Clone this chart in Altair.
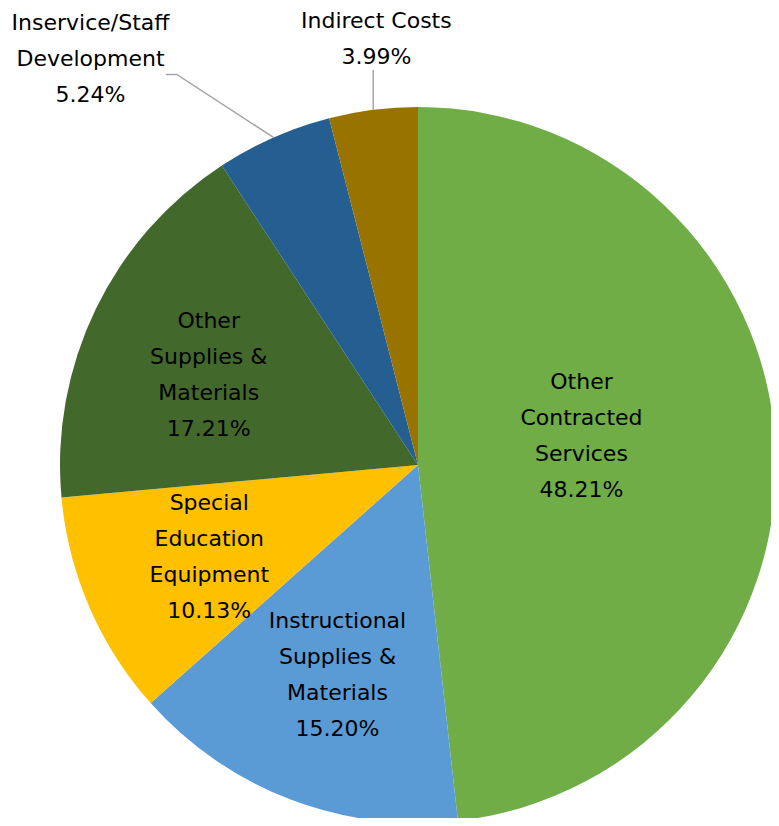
import math
import altair as alt
import pandas as pd

# ---- data ----
categories = [
    "Other Contracted Services",
    "Instructional Supplies & Materials",
    "Special Education Equipment",
    "Other Supplies & Materials",
    "Inservice/Staff Development",
    "Indirect Costs",
]
label_lines = [
    "Other\nContracted\nServices",
    "Instructional\nSupplies &\nMaterials",
    "Special\nEducation\nEquipment",
    "Other\nSupplies &\nMaterials",
    "Inservice/Staff\nDevelopment",
    "Indirect Costs",
]
values = [48.21, 15.20, 10.13, 17.21, 5.24, 3.99]
colors = ["#70AD47", "#5B9BD5", "#FFC000", "#43682B", "#255E91", "#997300"]

# ---- label placement (style) ----
label_radius = [166, 225, 228, 228, 522, 428]
label_angle_offset = [-6.8, 0.0, -0.3, -2.4, -15.06, 1.6]

CX, CY, R = 410, 457, 358
FONT = "DejaVu Sans"
FS = 22
LH = 36

df = pd.DataFrame({
    "idx": list(range(len(categories))),
    "category": categories,
    "label": label_lines,
    "value": values,
    "lr": label_radius,
    "loff": label_angle_offset,
})

# leader lines derived from the pie geometry
total = sum(values)
cum = 0
mids = []
for v in values:
    mids.append((cum + v / 2) / total * 2 * math.pi)
    cum += v

def pt(r, a):
    return CX + r * math.sin(a), CY - r * math.cos(a)

lead_rows = []
a = mids[4]
x0, y0 = pt(R, a)
x1, y1 = pt(459, a - math.radians(7.9))
for i, (x, y) in enumerate([(x0, y0), (x1, y1), (x1 - 11, y1)]):
    lead_rows.append({"g": "isd", "o": i, "lx": x, "ly": y})
a = mids[5]
x0, y0 = pt(R, a)
for i, (x, y) in enumerate([(x0, y0), (x0, CY - 395)]):
    lead_rows.append({"g": "ic", "o": i, "lx": x, "ly": y})
lead = pd.DataFrame(lead_rows)

arc = alt.Chart(df).mark_arc(outerRadius=R).encode(
    theta=alt.Theta("value:Q", stack=True),
    order=alt.Order("idx:Q"),
    color=alt.Color("category:N", scale=alt.Scale(domain=categories, range=colors), legend=None),
    x=alt.value(CX),
    y=alt.value(CY),
)

text = alt.Chart(df).transform_window(
    cum="sum(value)", sort=[alt.SortField("idx")], frame=[None, 0]
).transform_joinaggregate(
    total="sum(value)"
).transform_calculate(
    mid="2*PI*(datum.cum - datum.value/2)/datum.total + datum.loff*PI/180",
    txt="datum.label + '\\n' + format(datum.value, '.2f') + '%'",
).transform_calculate(
    nl="length(split(datum.txt, '\\n'))",
).transform_calculate(
    tx=f"{CX} + datum.lr*sin(datum.mid)",
    ty=f"{CY} - datum.lr*cos(datum.mid) - (datum.nl - 1)*{LH}/2",
).mark_text(
    lineBreak="\n", fontSize=FS, lineHeight=LH, font=FONT, color="#000000",
    align="center", baseline="middle",
).encode(
    x=alt.X("tx:Q", scale=None, axis=None),
    y=alt.Y("ty:Q", scale=None, axis=None),
    text="txt:N",
)

lines = alt.Chart(lead).mark_line(color="#A6A6A6", strokeWidth=1.5).encode(
    x=alt.X("lx:Q", scale=None, axis=None),
    y=alt.Y("ly:Q", scale=None, axis=None),
    detail="g:N",
    order="o:Q",
)

chart = alt.layer(arc, lines, text).properties(
    width=763, height=810, padding=0, autosize=alt.AutoSizeParams(type="none")
).configure_view(stroke=None)

chart.save("out.html", embed_options={"renderer": "svg", "actions": False})
